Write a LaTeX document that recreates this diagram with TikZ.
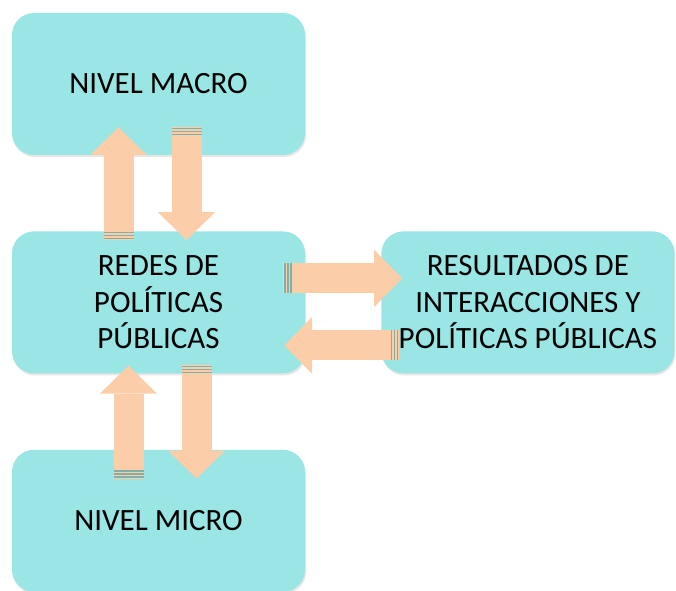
\documentclass[tikz,border=0pt]{standalone}
\usepackage{fontspec}
\setmainfont{Carlito}
\usetikzlibrary{%
  positioning,
  calc,
  arrows.meta,
  shadows,
}
\definecolor{boxcyan}{RGB}{153,230,229}
\definecolor{peach}{RGB}{251,205,168}
\definecolor{stripeteal}{RGB}{128,176,168}

\begin{document}
\begin{tikzpicture}[%
           x=1pt, y=1pt,
           node distance=76pt and 74pt,
           level/.style={
             % The shape:
             rectangle,
             rounded corners=22pt,
             % The size:
             minimum width=293pt,
             minimum height=142pt,
             % The filling:
             fill=boxcyan,
             drop shadow={opacity=0.2, shadow xshift=1pt, shadow yshift=-2pt},
             % The text:
             align=center,
             font=\fontsize{31}{36.5}\selectfont,
           },
           flow/.style={
             -{Triangle[width=57pt, length=28pt, line width=0pt]},
             line width=30pt,
             color=peach,
           },
           stripe/.style={
             line width=30pt,
             color=stripeteal,
           }]

         \useasboundingbox (0,0) rectangle (676,590);

         \node[level] (macro) at (158.5,506) {NIVEL MACRO};
         \node[level] (redes) [below=of macro] {REDES DE\\POLÍTICAS\\PÚBLICAS};
         \node[level] (micro) [below=of redes] {NIVEL MICRO};
         \node[level] (resultados) [right=of redes, xshift=2pt] {RESULTADOS DE\\INTERACCIONES Y\\POLÍTICAS PÚBLICAS};

         % macro <-> redes
         \coordinate (mu1) at ($ (redes.north) + (-40, -9) $);
         \coordinate (mu2) at ($ (macro.south) + (-40, 28) $);
         \coordinate (md1) at ($ (macro.south) + (28, 28) $);
         \coordinate (md2) at ($ (redes.north) + (28, -9) $);
         % redes <-> resultados
         \coordinate (rr1) at ($ (redes.east) + (-22, 24) $);
         \coordinate (rr2) at ($ (resultados.west) + (21, 24) $);
         \coordinate (rl1) at ($ (resultados.west) + (18, -43) $);
         \coordinate (rl2) at ($ (redes.east) + (-21, -43) $);
         % micro <-> redes
         \coordinate (nu1) at ($ (micro.north) + (-30, -29) $);
         \coordinate (nu2) at ($ (redes.south) + (-30, 8) $);
         \coordinate (nd1) at ($ (redes.south) + (38, 9) $);
         \coordinate (nd2) at ($ (micro.north) + (38, -29) $);

         \foreach \from/\to in {mu1/mu2, md1/md2, rr1/rr2, rl1/rl2, nu1/nu2, nd1/nd2} {
           \draw[flow] (\from) -- (\to);
           \foreach \a/\b in {1/2.3, 4/5.3, 7/8.3}
             \draw[stripe] ($ (\from)!\a pt!(\to) $) -- ($ (\from)!\b pt!(\to) $);
         }
       \end{tikzpicture}
\end{document}
